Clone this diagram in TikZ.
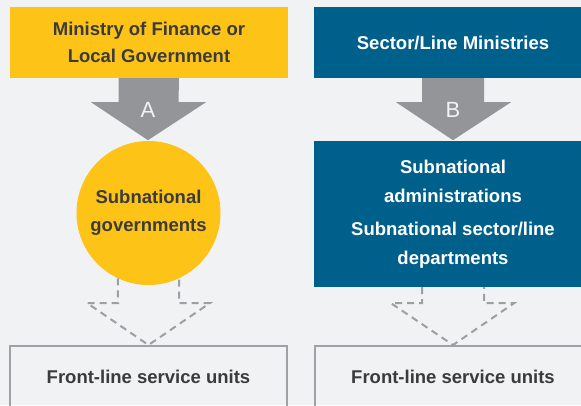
\documentclass[tikz,border=0pt]{standalone}
\usepackage{fontspec}
\setmainfont{Liberation Sans}
\usetikzlibrary{calc}
\definecolor{bgc}{HTML}{F1F2F4}
\definecolor{yel}{HTML}{FDC316}
\definecolor{blu}{HTML}{00608C}
\definecolor{txt}{HTML}{3B3B3D}
\definecolor{arr}{HTML}{939598}
\definecolor{dsh}{HTML}{9D9FA2}
\definecolor{brd}{HTML}{A0A1A4}
\begin{document}
\begin{tikzpicture}[x=1pt,y=-1pt,
  lbl/.style={font=\bfseries\fontsize{18.5}{27.5}\selectfont, align=center},
  ybox/.style={lbl, fill=yel, text=txt, minimum width=278pt, minimum height=71pt, inner sep=0pt},
  bbox/.style={lbl, fill=blu, text=white, minimum width=278pt, inner sep=0pt},
  fbox/.style={lbl, draw=brd, line width=2pt, text=txt, minimum width=277pt, minimum height=62pt, inner sep=0pt},
  bigarrow/.style={fill=arr},
  arrlabel/.style={text=bgc, font=\fontsize{22}{22}\selectfont},
  dasharrow/.style={draw=dsh, line width=2pt, dash pattern=on 7pt off 5pt}]
\useasboundingbox (0,0) rectangle (581,405);
\clip (0,0) rectangle (581,405);
\fill[bgc] (0,0) rectangle (581,405);

% top boxes
\node[ybox] (mof) at (149,42.5) {Ministry of Finance or\\Local Government};
\node[bbox, minimum height=71pt] (slm) at (453,42.5) {Sector/Line Ministries};

% middle
\node[circle, fill=yel, text=txt, lbl, minimum size=144pt, inner sep=0pt] (sng) at (148.5,213) {Subnational\\governments};
\node[bbox, minimum height=146pt] (sna) at (453,214) {Subnational\\[1pt]administrations\\[6pt]Subnational sector/line\\[1pt]departments};

% bottom
\node[fbox] (fl) at (148.5,377) {Front-line service units};
\node[fbox] (fr) at (453,377) {Front-line service units};

% big arrows
\fill[bigarrow] ($(mof.south)+(-30.5,0)$) -- ++(0,24) -- ++(-27.5,0) -- ($(mof.south)+(-1,62)$) -- ($(mof.south)+(57,24)$) -- ++(-27.5,0) -- ($(mof.south)+(30,0)$) -- cycle;
\node[arrlabel] (la) at (148,110) {A};
\fill[bigarrow] ($(slm.south)+(-31,0)$) -- ++(0,24) -- ++(-26,0) -- ($(slm.south)+(0,62)$) -- ($(slm.south)+(58,24)$) -- ++(-27,0) -- ($(slm.south)+(31,0)$) -- cycle;
\node[arrlabel] (lb) at (453,110) {B};

% dashed arrows
\draw[dasharrow] (sng.-115) -- ($(sng.center)+(-30.5,90)$) -- ++(-31,0) -- (fl.north) -- ($(sng.center)+(61.5,90)$) -- ++(-31,0) -- (sng.-65);
\draw[dasharrow] ($(sna.south)+(-31,0)$) -- ++(0,16) -- ++(-31,0) -- (fr.north) -- ($(sna.south)+(61,16)$) -- ++(-30,0) -- ($(sna.south)+(31,0)$);
\end{tikzpicture}
\end{document}
